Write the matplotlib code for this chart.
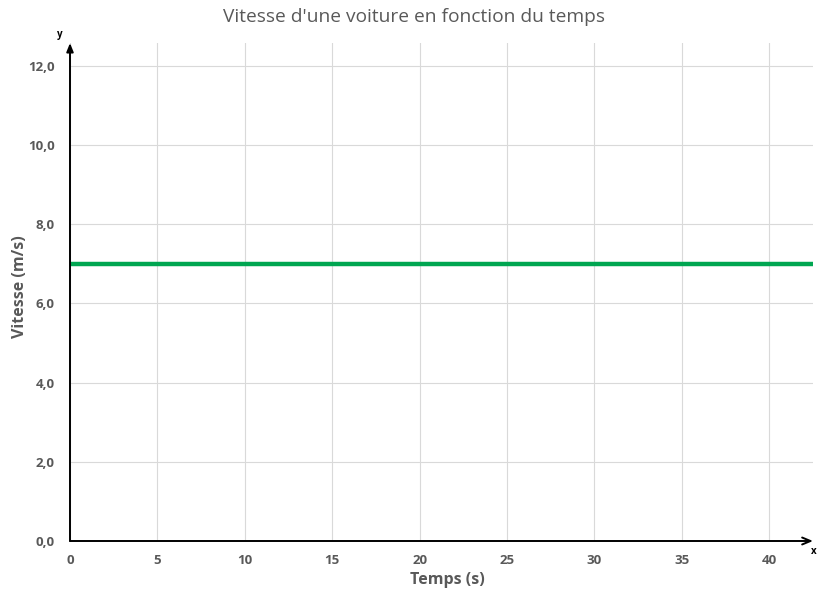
import matplotlib
matplotlib.use("Agg")
import matplotlib.pyplot as plt
from matplotlib.ticker import FuncFormatter

temps = [0, 42.5]
vitesse = [7.0, 7.0]
x_ticks = [0, 5, 10, 15, 20, 25, 30, 35, 40]
y_ticks = [0, 2, 4, 6, 8, 10, 12]
title = "Vitesse d'une voiture en fonction du temps"
xlabel = "Temps (s)"
ylabel = "Vitesse (m/s)"

W, H = 821, 593
fig = plt.figure(figsize=(W / 100, H / 100), dpi=100)
ax = fig.add_axes([70 / W, 1 - 541 / H, (813 - 70) / W, (541 - 43) / H])

gray = "#595959"
ax.plot(temps, vitesse, color="#00A651", lw=3.2, solid_capstyle="butt", zorder=3, clip_on=False)

ax.set_xlim(0, 42.5)
ax.set_ylim(0, 12.58)
ax.set_xticks(x_ticks)
ax.set_yticks(y_ticks)
ax.yaxis.set_major_formatter(FuncFormatter(lambda v, p: f"{v:.1f}".replace(".", ",")))
ax.grid(True, color="#d9d9d9", lw=0.8)
ax.set_axisbelow(True)
for s in ax.spines.values():
    s.set_visible(False)
ax.tick_params(length=0, colors=gray, labelsize=9.5)
ax.tick_params(axis="y", pad=11)
ax.tick_params(axis="x", pad=9)
for lab in ax.get_xticklabels() + ax.get_yticklabels():
    lab.set_fontweight("bold")
    lab.set_fontfamily("Open Sans")

ax.annotate("", xy=(0, 1.0), xytext=(0, 0), xycoords="axes fraction",
            arrowprops=dict(arrowstyle="-|>,head_length=0.5,head_width=0.2", color="black", lw=1.4, shrinkA=0, shrinkB=0))
ax.annotate("", xy=(1.0, 0), xytext=(0, 0), xycoords="axes fraction",
            arrowprops=dict(arrowstyle="->,head_length=0.6,head_width=0.25", color="black", lw=1.4, shrinkA=0, shrinkB=0))

fig.text(60 / W, 1 - 34 / H, "y", ha="center", va="center", fontsize=7, fontweight="bold", family="Open Sans")
fig.text(814 / W, 1 - 551 / H, "x", ha="center", va="center", fontsize=7, fontweight="bold", family="Open Sans")

fig.text(414 / W, 1 - 17 / H, title, ha="center", va="center", fontsize=13.8, color=gray, family="Open Sans")
fig.text(447 / W, 1 - 580 / H, xlabel, ha="center", va="center", fontsize=11.5, color=gray, fontweight="bold", family="Open Sans")
fig.text(20 / W, 1 - 287 / H, ylabel, ha="center", va="center", rotation=90, fontsize=11.5, color=gray, fontweight="bold", family="Open Sans")

fig.savefig("out.png", dpi=100)
